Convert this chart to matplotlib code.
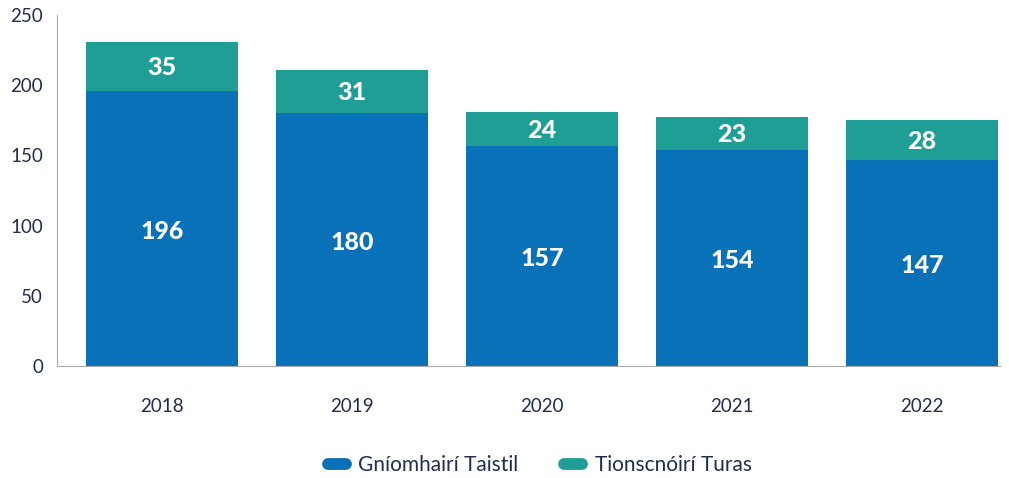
import numpy as np
import matplotlib.pyplot as plt
from matplotlib.lines import Line2D

years = ['2018', '2019', '2020', '2021', '2022']
gniomhairi = [196, 180, 157, 154, 147]
tionscnoiri = [35, 31, 24, 23, 28]

blue = '#0971b8'
teal = '#1e9e94'
navy = '#1f2d4e'

plt.rcParams['font.family'] = ['Lato', 'DejaVu Sans']

fig = plt.figure(figsize=(10.09, 4.78), dpi=100)
ax = fig.add_axes([0.0565, 0.234, 0.9345, 0.735])

x = np.arange(len(years))
ax.bar(x, gniomhairi, width=0.8, color=blue)
ax.bar(x, tionscnoiri, width=0.8, bottom=gniomhairi, color=teal)

for i in range(len(years)):
	ax.text(x[i], gniomhairi[i] / 2 - 2, str(gniomhairi[i]), ha='center', va='center',
			color='white', fontsize=18, fontweight='black')
	ax.text(x[i], gniomhairi[i] + tionscnoiri[i] / 2 - 1, str(tionscnoiri[i]), ha='center', va='center',
			color='white', fontsize=18, fontweight='black')

ax.set_xlim(-0.553, 4.41)
ax.set_ylim(0, 250)
ax.set_yticks([0, 50, 100, 150, 200, 250])
ax.set_xticks(x)
ax.set_xticklabels(years)
ax.tick_params(axis='both', length=0, labelsize=13.5, labelcolor=navy)
ax.tick_params(axis='x', pad=23)
ax.tick_params(axis='y', pad=10)

for s in ['top', 'right']:
	ax.spines[s].set_visible(False)
ax.spines['left'].set_color('#aaaaaa')
ax.spines['bottom'].set_color('#aaaaaa')

handles = [Line2D([0], [0], color=blue, lw=8.5, solid_capstyle='round'),
		   Line2D([0], [0], color=teal, lw=8.5, solid_capstyle='round')]
fig.legend(handles, ['Gníomhairí Taistil', 'Tionscnóirí Turas'], loc='center',
		   bbox_to_anchor=(0.535, 0.027), ncol=2, frameon=False, fontsize=15,
		   handlelength=0.85, handletextpad=0.6, columnspacing=2.2, labelcolor=navy)

fig.savefig('out.png', dpi=100)
